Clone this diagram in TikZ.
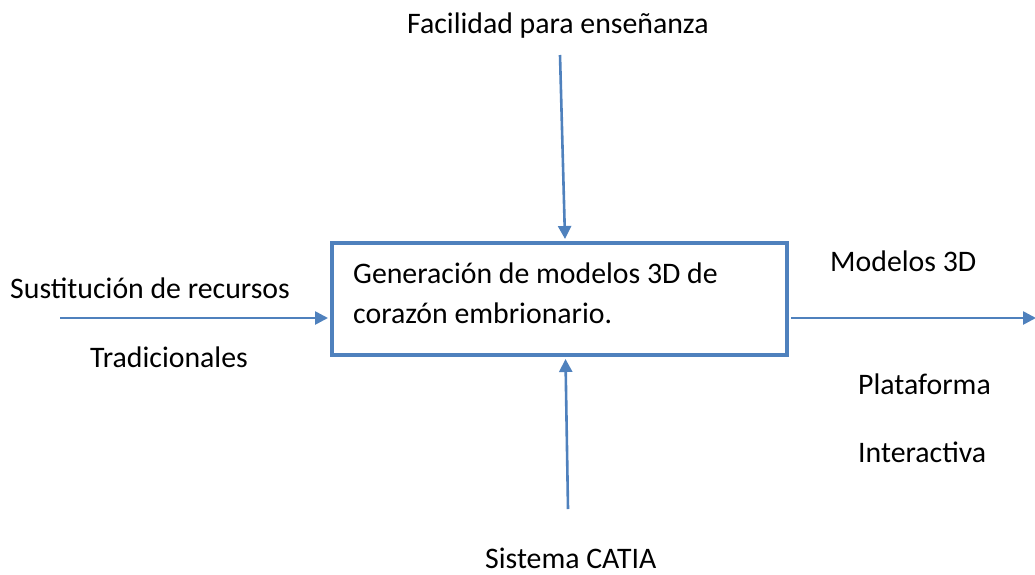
\documentclass[tikz,border=0pt]{standalone}
\usepackage{fontspec}
\setmainfont{Carlito}
\usetikzlibrary{arrows.meta}
\definecolor{accent}{HTML}{4F81BD}
\tikzset{
  lbl/.style={anchor=base west, inner sep=0pt, font=\fontsize{29.8}{34}\selectfont},
  arr/.style={draw=accent, line width=2.6pt, -{Triangle[length=13pt,width=13pt]}},
  procbox/.style={draw=accent, line width=4pt, minimum width=455pt, minimum height=112pt, inner sep=0pt}
}
\begin{document}
\begin{tikzpicture}[x=1pt,y=-1pt]
\useasboundingbox (0,0) rectangle (1035,574);
\node[procbox] (box) at (559.5,299) {};
\node[lbl] (g1) at (353,283) {Generación de modelos 3D de};
\node[lbl] (g2) at (353,323) {corazón embrionario.};
\node[lbl] (fac) at (407,33) {Facilidad para enseñanza};
\node[lbl] (sus) at (10,298) {Sustitución de recursos};
\node[lbl] (tra) at (90,367) {Tradicionales};
\node[lbl] (mod) at (830,271) {Modelos 3D};
\node[lbl] (pla) at (858,394) {Plataforma};
\node[lbl] (int) at (858,462) {Interactiva};
\node[lbl] (cat) at (485,568) {Sistema CATIA};
\coordinate (ttop) at (560,55);
\coordinate (lin) at (60,318);
\coordinate (rout) at (1036,318);
\coordinate (bbot) at (568,509);
\draw[arr] (ttop) -- ([xshift=5.5pt,yshift=2pt]box.north);
\draw[arr] (lin) -- ([yshift=-19pt,xshift=-2pt]box.west);
\draw[arr] ([yshift=-19pt,xshift=2pt]box.east) -- (rout);
\draw[arr] (bbot) -- ([xshift=6pt,yshift=-2pt]box.south);
\end{tikzpicture}
\end{document}
